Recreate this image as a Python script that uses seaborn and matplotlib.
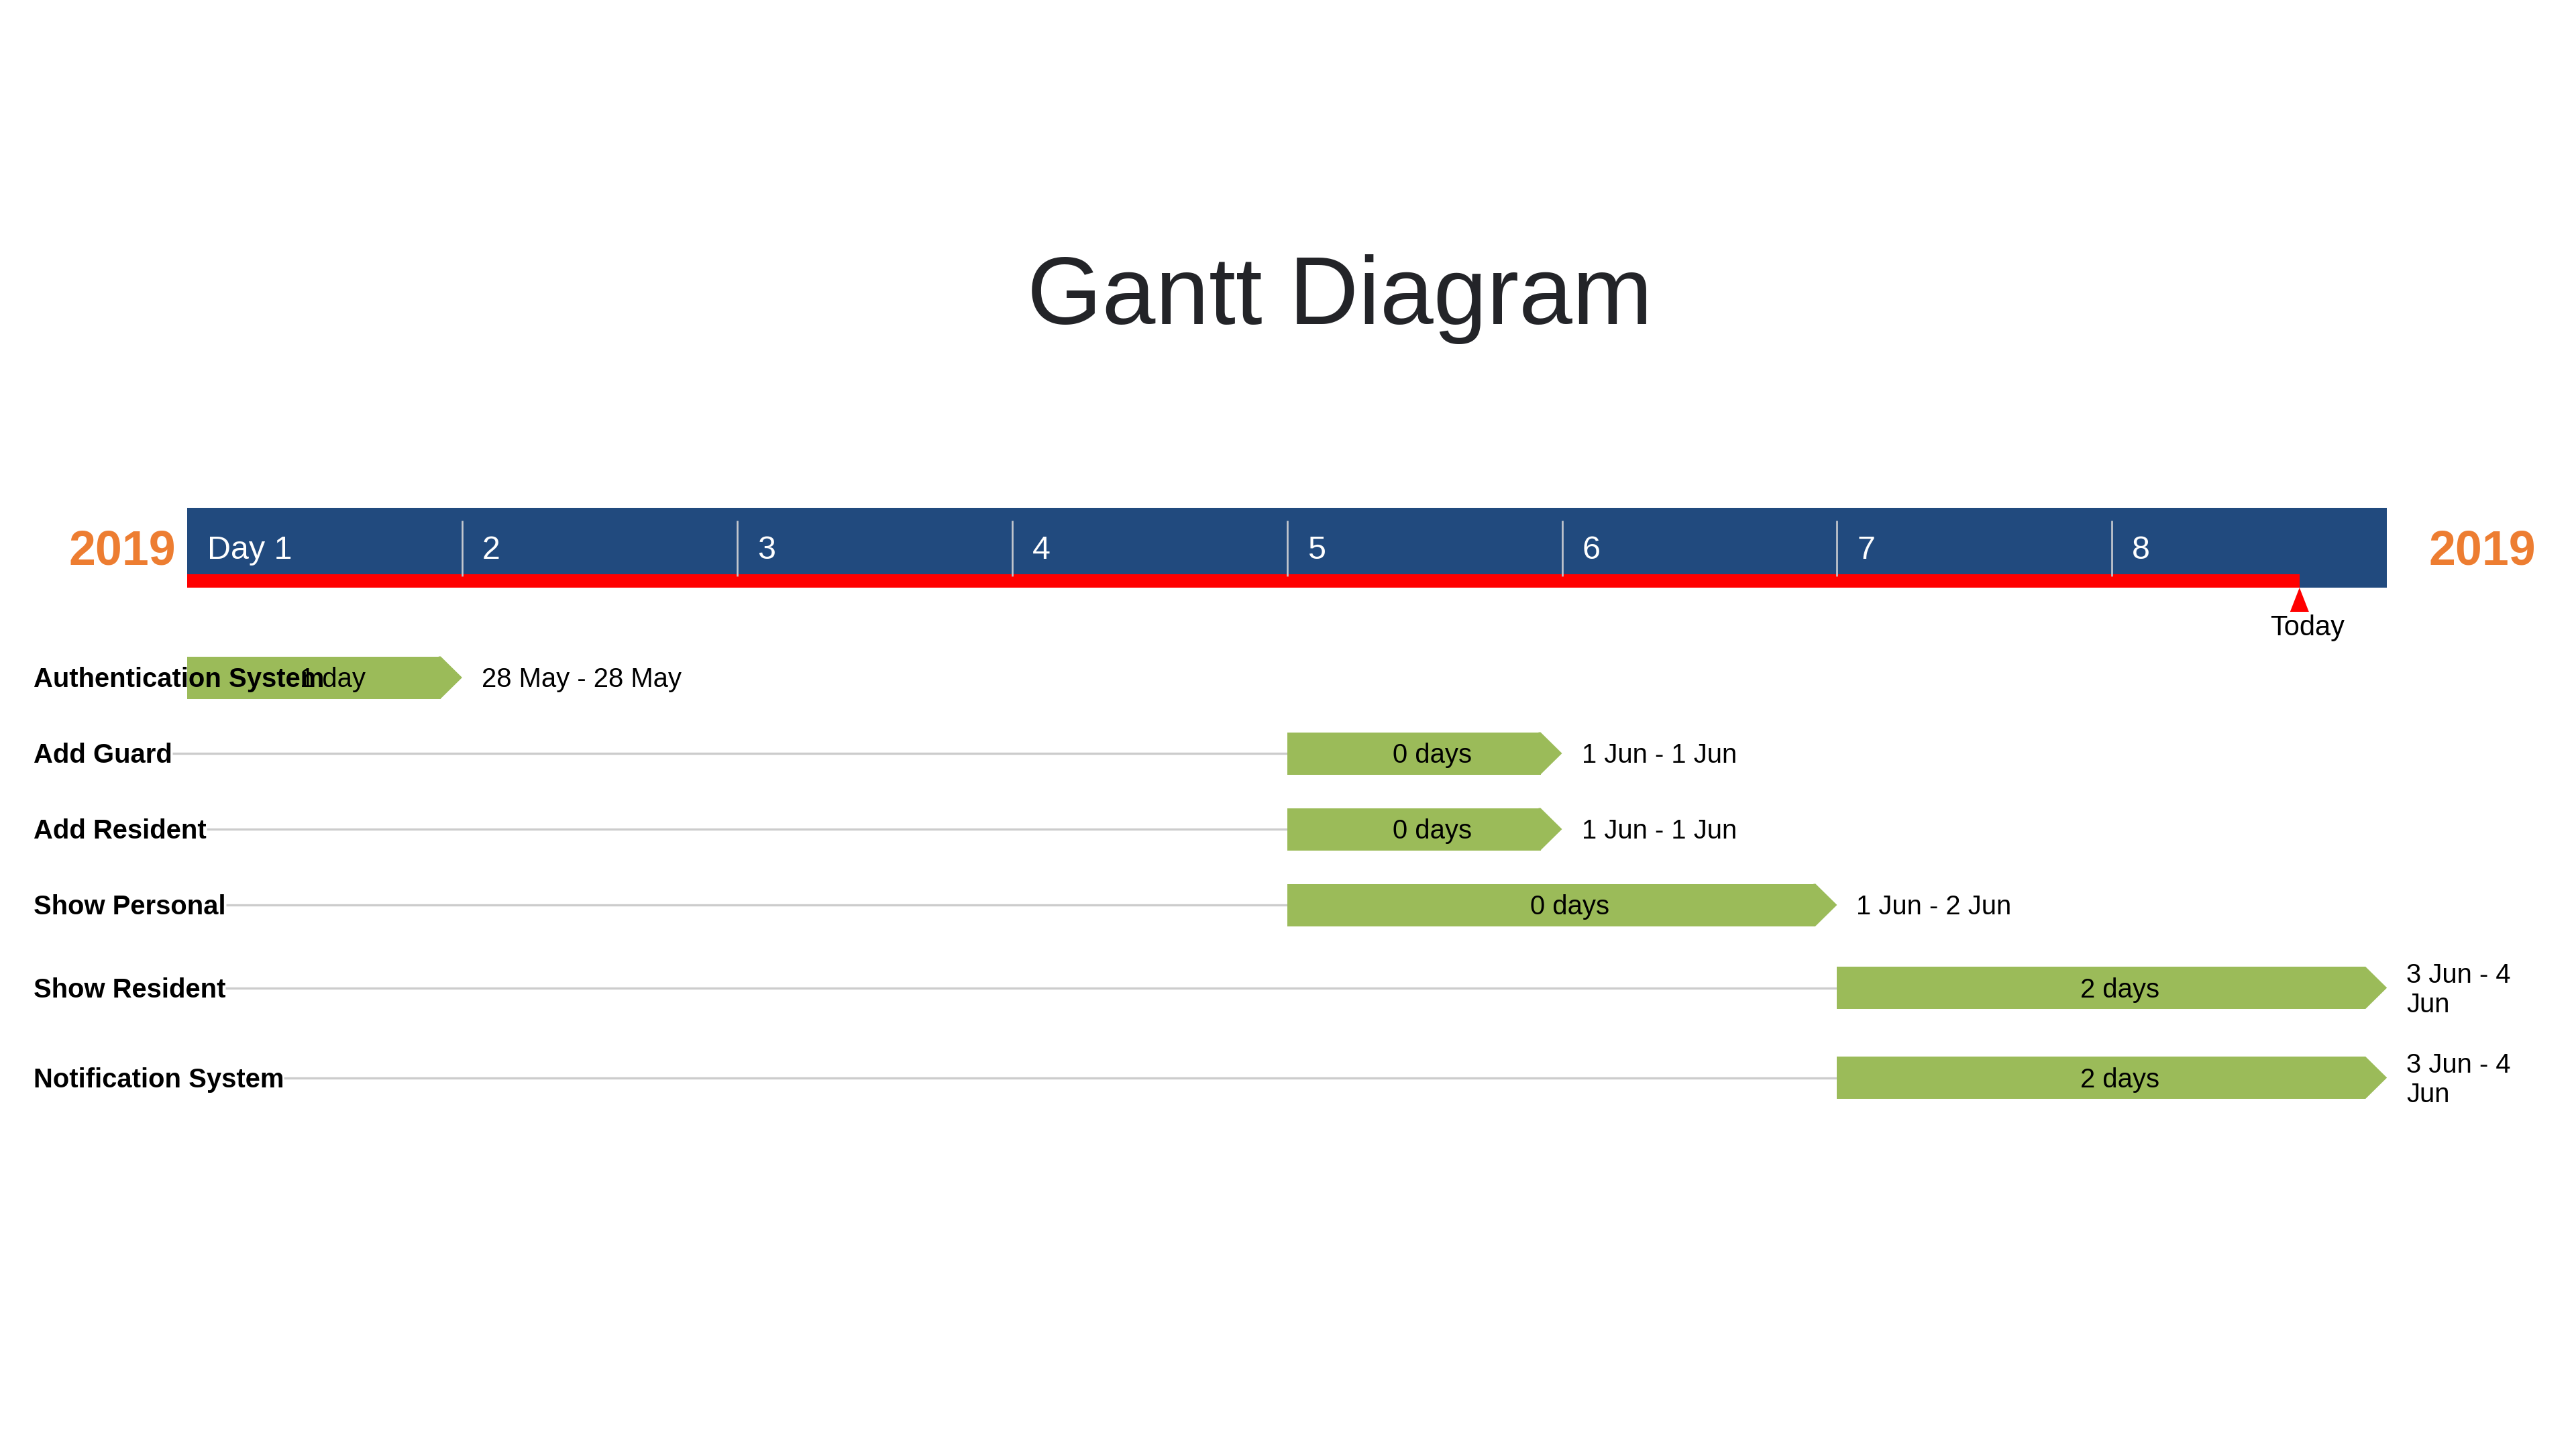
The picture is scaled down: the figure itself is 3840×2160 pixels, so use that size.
import numpy as np
import pandas as pd
import matplotlib
matplotlib.use('Agg')
import matplotlib.pyplot as plt
from matplotlib.patches import Polygon, Rectangle
import seaborn as sns

sns.set_theme(style='white')
plt.rcParams['font.family'] = ['Liberation Sans', 'DejaVu Sans']


# gantt data
tasks = ['Authentication System', 'Add Guard', 'Add Resident',
         'Show Personal', 'Show Resident', 'Notification System']
start_dates = ['2019-05-28', '2019-06-01', '2019-06-01',
               '2019-06-01', '2019-06-03', '2019-06-03']
end_dates = ['2019-05-28', '2019-06-01', '2019-06-01',
             '2019-06-02', '2019-06-04', '2019-06-04']
duration_labels = ['1 day', '0 days', '0 days', '0 days', '2 days', '2 days']
range_labels = ['28 May - 28 May', '1 Jun - 1 Jun', '1 Jun - 1 Jun',
                '1 Jun - 2 Jun', '3 Jun - 4\nJun', '3 Jun - 4\nJun']
day_labels = ['Day 1', '2', '3', '4', '5', '6', '7', '8']
year_label = '2019'
today = '2019-06-04 16:22'
title = 'Gantt Diagram'

project_start = pd.Timestamp(start_dates[0])
one_day = pd.Timedelta(days=1)
start = ((pd.to_datetime(start_dates) - project_start) / one_day).values
end = ((pd.to_datetime(end_dates) - project_start) / one_day).values + 1
today_x = (pd.Timestamp(today) - project_start) / one_day

# colours
blue = '#214a7e'
green = '#9bbb59'
orange = '#ed7d31'
red = '#ff0000'

# layout (figure pixels, y measured from the top)
W, H = 3840, 2160
x0, day_px = 279, 409.9
px = 1 / day_px            # one pixel in day units
bar_h = 63
tip = 32
line_gap = 44              # distance between wrapped text lines
row_h = [134 if '\n' in r else 113 for r in range_labels]
rows_y = [1010.0]
for i in range(1, len(tasks)):
    rows_y.append(rows_y[-1] + (row_h[i - 1] + row_h[i]) / 2)
rows_y = np.array(rows_y)

fig = plt.figure(figsize=(16, 9), dpi=240)
ax = fig.add_axes([0, 0, 1, 1])

# bar bodies
df = pd.DataFrame({'row': rows_y, 'length': end - start - tip * px,
                   'left': start})
sns.barplot(data=df, x='length', y='row', orient='y', native_scale=True,
            width=bar_h / np.min(np.diff(rows_y)), left=df['left'].values,
            color=green, saturation=1, errorbar=None, linewidth=0,
            ax=ax, zorder=3)

ax.set_xlim(-x0 * px, (W - x0) * px)
ax.set_ylim(H, 0)
ax.axis('off')

# arrow tips (start a little inside the body so no seam shows)
for s, e, y in zip(start, end, rows_y):
    ax.add_patch(Polygon([(e - (tip + 3) * px, y - bar_h / 2),
                          (e - tip * px, y - bar_h / 2), (e, y),
                          (e - tip * px, y + bar_h / 2),
                          (e - (tip + 3) * px, y + bar_h / 2)],
                         closed=True, facecolor=green, edgecolor='none',
                         zorder=3))

# header
n_days = len(day_labels)
ax.add_patch(Rectangle((0, 757), n_days, 876 - 757, facecolor=blue,
                       edgecolor='none', zorder=2))
ax.add_patch(Rectangle((0, 856), today_x, 20, facecolor=red,
                       edgecolor='none', zorder=3))
ax.vlines(np.arange(1, n_days), 776, 859, color='#c4c8ce', lw=0.8, zorder=4)
for i, lab in enumerate(day_labels):
    ax.text(i + 30 * px, 833, lab, color='white', fontsize=14.5,
            ha='left', va='baseline', zorder=5)
ax.text(-17 * px, 841, year_label, color=orange, fontsize=21.5,
        fontweight='bold', ha='right', va='baseline')
ax.text(n_days + 62 * px, 841, year_label, color=orange, fontsize=21.5,
        fontweight='bold', ha='left', va='baseline')

# today marker
ax.add_patch(Polygon([(today_x, 876), (today_x - 14 * px, 912),
                      (today_x + 14 * px, 912)], closed=True,
                     facecolor=red, edgecolor='none', zorder=4))
ax.text(today_x + 12 * px, 947, 'Today', color='black', fontsize=12.5,
        ha='center', va='baseline')

# title
ax.text(1997 * px - x0 * px, 483, title, color='#232428', fontsize=43,
        ha='center', va='baseline')

# task rows
renderer = fig.canvas.get_renderer()
inv = ax.transData.inverted()
for i, y in enumerate(rows_y):
    t = ax.text(-229 * px, y + 14.3, tasks[i], color='black', fontsize=12,
                fontweight='bold', ha='left', va='baseline', zorder=6)
    bb = t.get_window_extent(renderer)
    label_end = inv.transform((bb.x1, bb.y0))[0]
    if label_end < start[i]:
        ax.plot([label_end, start[i]], [y, y], color='#cccccc', lw=1,
                zorder=1, solid_capstyle='butt')
    ax.text((start[i] + end[i]) / 2 + 12 * px, y + 14.3, duration_labels[i],
            color='black', fontsize=12, ha='center', va='baseline', zorder=6)
    lines = range_labels[i].split('\n')
    for k, line in enumerate(lines):
        ax.text(end[i] + 29 * px,
                y + 14.3 + (k - (len(lines) - 1) / 2) * line_gap,
                line, color='black', fontsize=12, ha='left',
                va='baseline', zorder=6)

fig.savefig('out.png', dpi=240, facecolor='white')
